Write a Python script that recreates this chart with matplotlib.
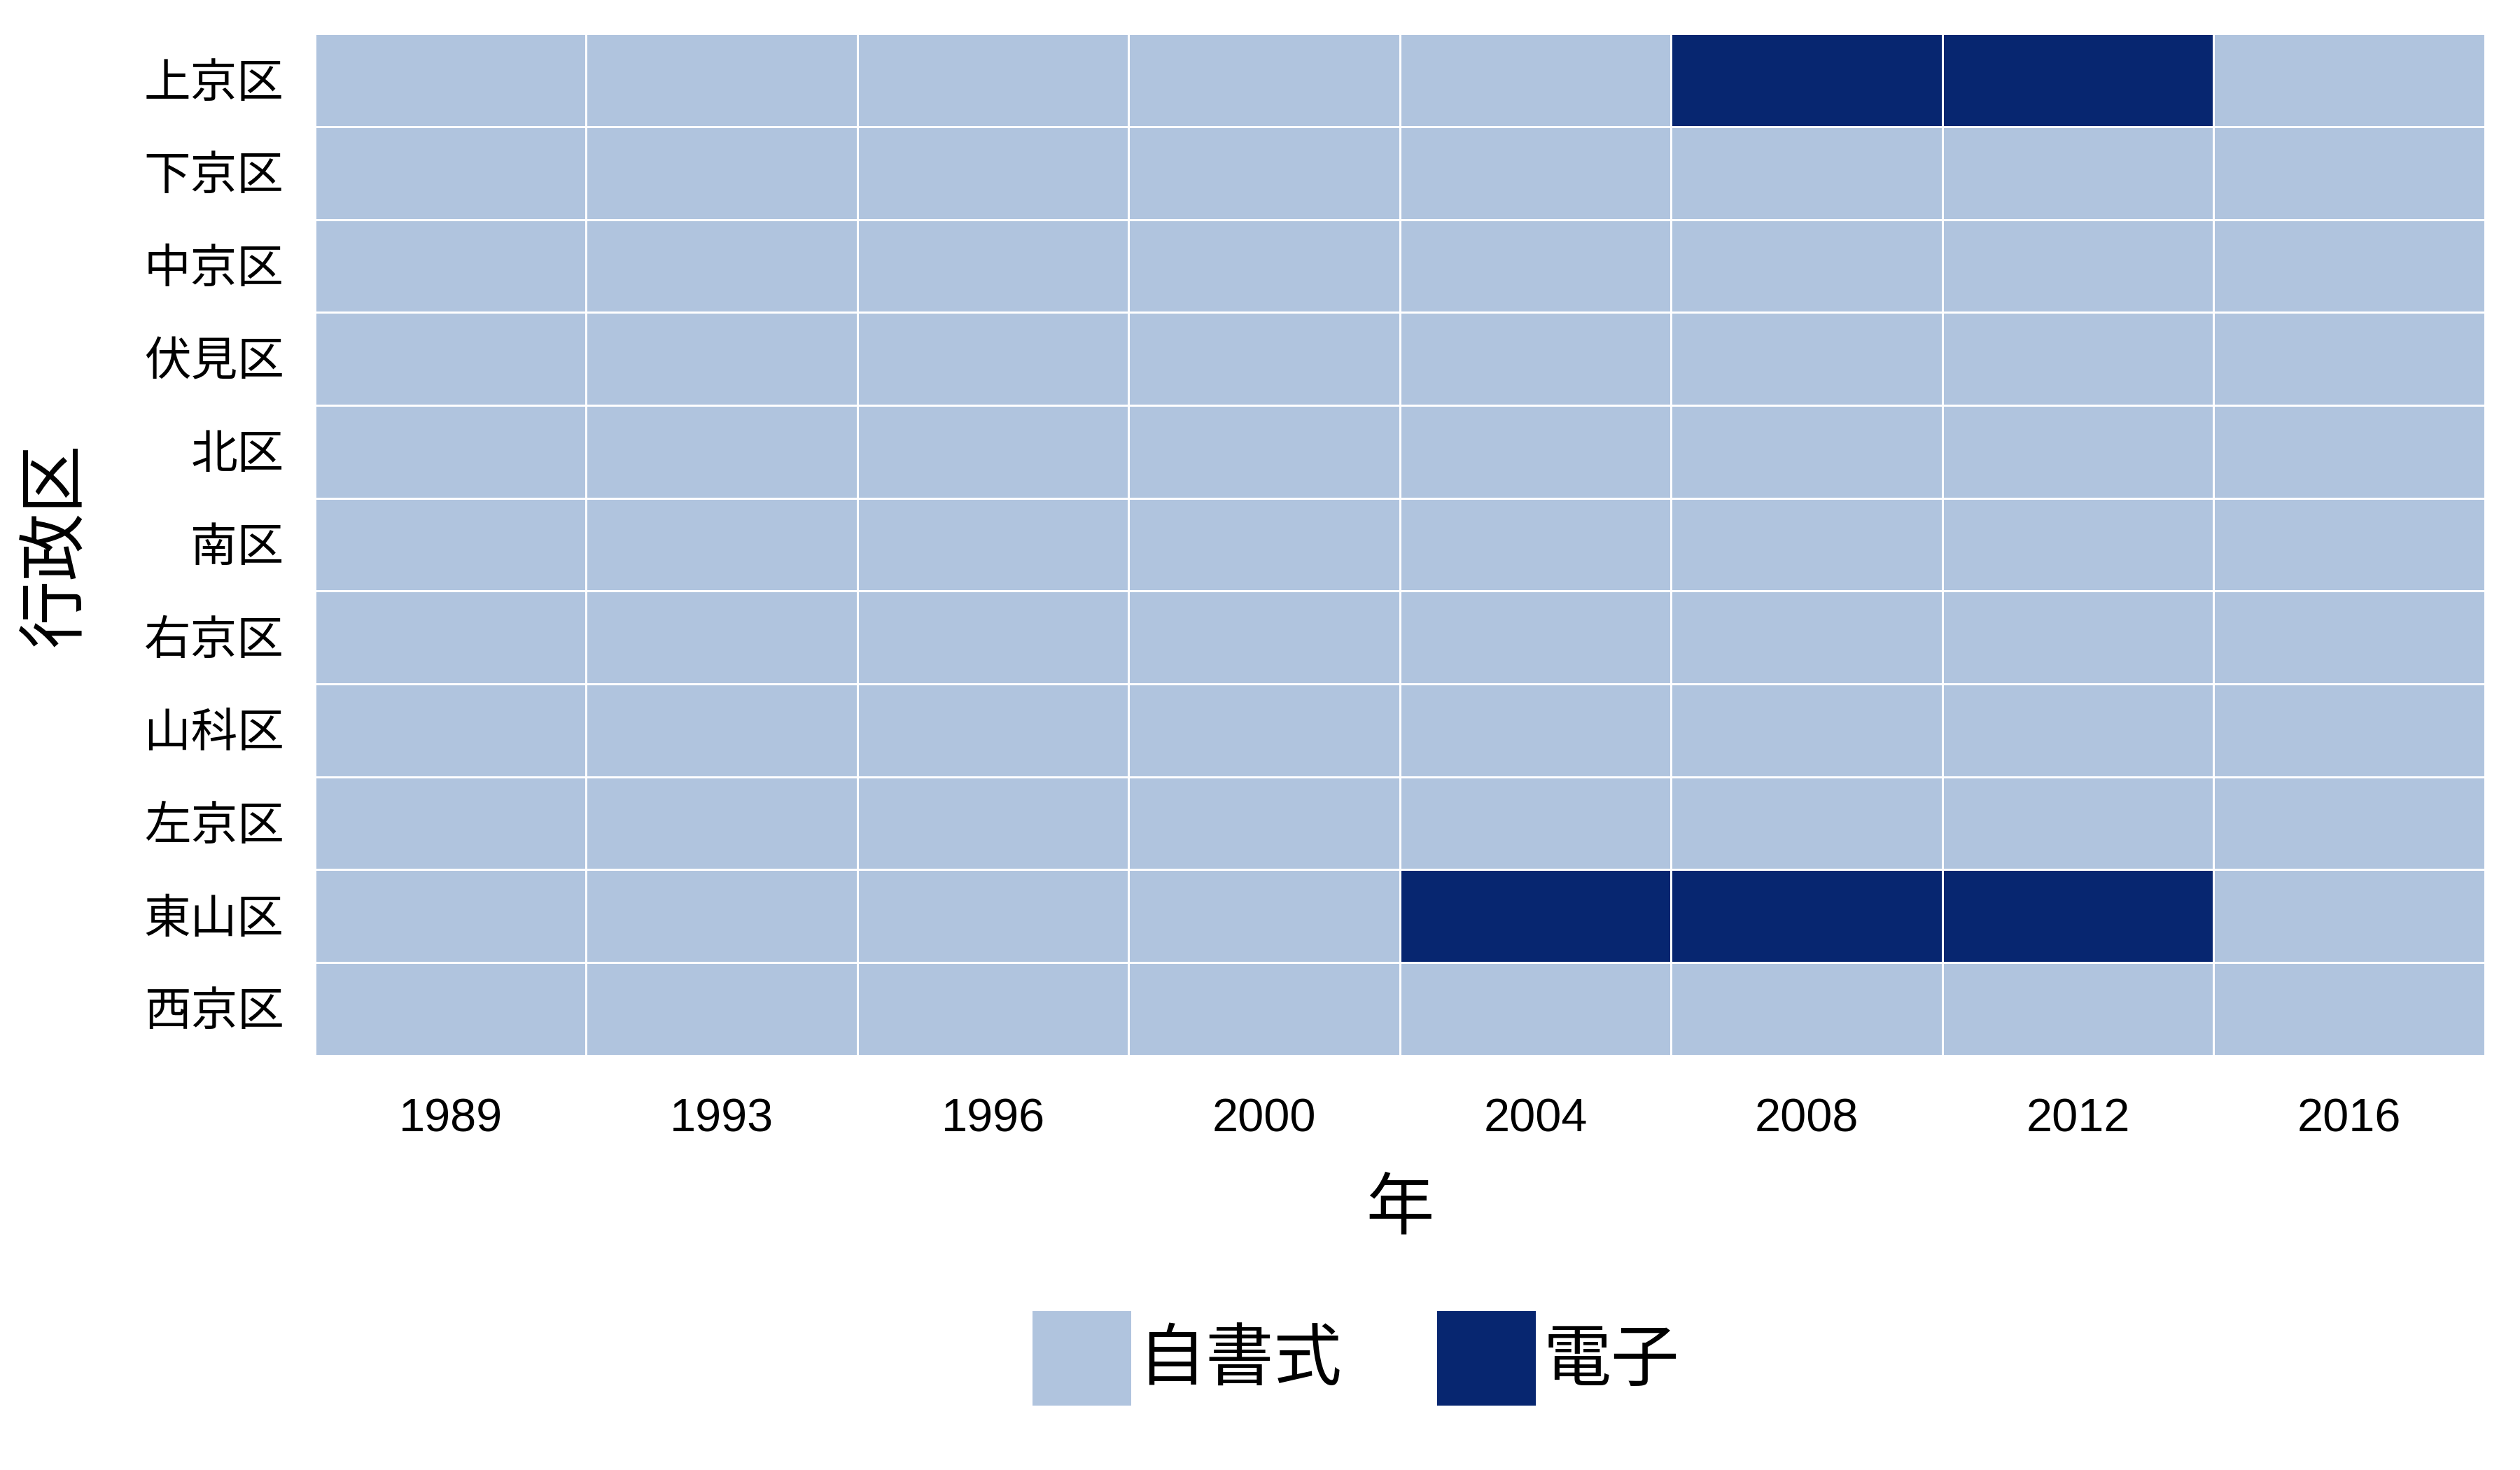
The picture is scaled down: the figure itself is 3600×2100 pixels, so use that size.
import numpy as np
import matplotlib
matplotlib.use("Agg")
import matplotlib.pyplot as plt
from matplotlib.colors import ListedColormap
from matplotlib.patches import Patch

plt.rcParams['font.family'] = ['Liberation Sans', 'Noto Sans CJK JP', 'DejaVu Sans']

YEARS     = ['1989', '1993', '1996', '2000', '2004', '2008', '2012', '2016']
WARDS     = ['上京区', '下京区', '中京区', '伏見区', '北区', '南区',
             '右京区', '山科区', '左京区', '東山区', '西京区']
KINDS     = ['自書式', '電子']
KIND_COLS = ['#B0C4DE', '#072670']

# voting method per ward (rows) and election year (columns)
VOTE = [
    ['自書式', '自書式', '自書式', '自書式', '自書式', '電子', '電子', '自書式'],   # 上京区
    ['自書式'] * 8,                                                               # 下京区
    ['自書式'] * 8,                                                               # 中京区
    ['自書式'] * 8,                                                               # 伏見区
    ['自書式'] * 8,                                                               # 北区
    ['自書式'] * 8,                                                               # 南区
    ['自書式'] * 8,                                                               # 右京区
    ['自書式'] * 8,                                                               # 山科区
    ['自書式'] * 8,                                                               # 左京区
    ['自書式', '自書式', '自書式', '自書式', '電子', '電子', '電子', '自書式'],     # 東山区
    ['自書式'] * 8,                                                               # 西京区
]

codes = np.array([[KINDS.index(v) for v in row] for row in VOTE])

fig = plt.figure(figsize=(18, 10.5), dpi=200)
ax = fig.add_axes([0.125, 0.282, 0.861, 0.695])
ax.pcolormesh(codes, cmap=ListedColormap(KIND_COLS), vmin=-0.5, vmax=1.5,
              edgecolors='white', linewidth=0.5)
ax.set_xlim(0, len(YEARS)); ax.set_ylim(len(WARDS), 0)
ax.set_xticks(np.arange(len(YEARS)) + 0.5, YEARS, fontsize=24)
ax.set_yticks(np.arange(len(WARDS)) + 0.5, WARDS, fontsize=24)
ax.tick_params(length=0, pad=16)
ax.tick_params(axis='x', pad=22)
for s in ax.spines.values(): s.set_visible(False)

ax.set_xlabel('年', fontsize=35)
ax.xaxis.set_label_coords(0.5, -0.122)
ax.set_ylabel('行政区', fontsize=35)
ax.yaxis.set_label_coords(-0.104, 0.5)

handles = [Patch(facecolor=c, edgecolor='none', label=k) for k, c in zip(KINDS, KIND_COLS)]
fig.legend(handles=handles, loc='center', bbox_to_anchor=(0.538, 0.076), ncol=2,
           frameon=False, fontsize=35, handlelength=1.45, handleheight=1.75,
           handletextpad=0.1, columnspacing=1.4)

fig.savefig('out.png', dpi=200)
